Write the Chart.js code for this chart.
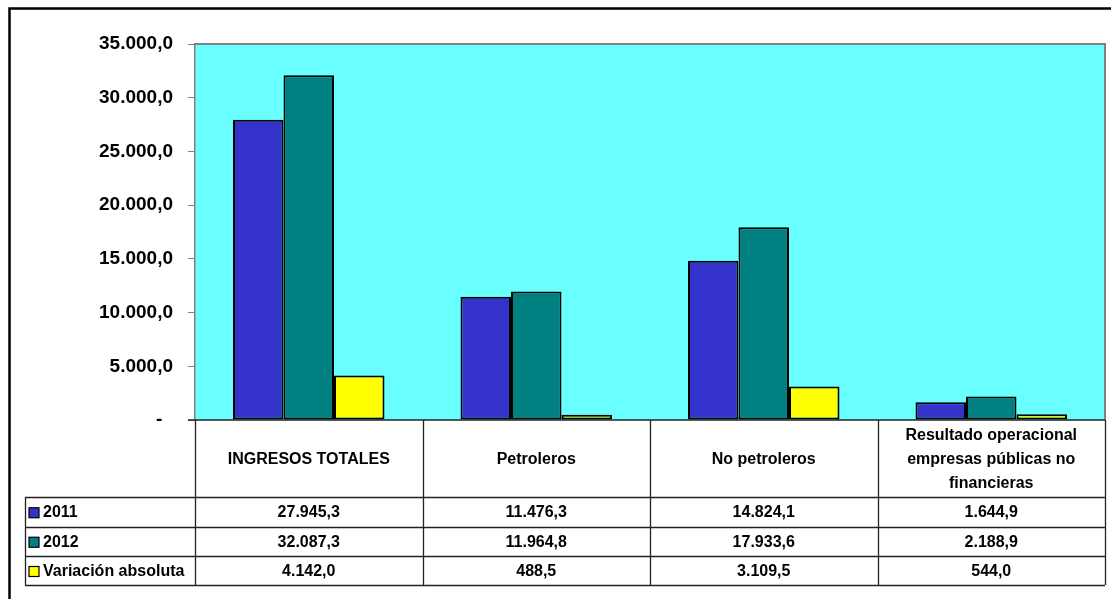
<!DOCTYPE html>
<html>
<head>
<meta charset="utf-8">
<script src="https://cdn.jsdelivr.net/npm/chart.js@4.4.0/dist/chart.umd.min.js"></script>
<style>
  html, body { margin: 0; padding: 0; background: #fff; }
  canvas { display: block; }
</style>
</head>
<body>
<canvas id="chart" width="1111" height="599"></canvas>
<script>
// data
const categories = [
  ['INGRESOS TOTALES'],
  ['Petroleros'],
  ['No petroleros'],
  ['Resultado operacional', 'empresas públicas no', 'financieras']
];
const seriesNames = ['2011', '2012', 'Variación absoluta'];
const values2011 = [27945.3, 11476.3, 14824.1, 1644.9];
const values2012 = [32087.3, 11964.8, 17933.6, 2188.9];
const valuesVariacion = [4142.0, 488.5, 3109.5, 544.0];
const yMax = 35000;
const yStep = 5000;

const colors = ['#3333CC', '#008080', '#FFFF00'];
const FONT = '"Liberation Sans", Arial, sans-serif';

function fmt(v) {
  const parts = v.toFixed(1).split('.');
  return parts[0].replace(/\B(?=(\d{3})+(?!\d))/g, '.') + ',' + parts[1];
}

const allSeries = [values2011, values2012, valuesVariacion];

// cyan plot area + outer frame
const backgroundPlugin = {
  id: 'bg',
  beforeDraw(chart) {
    const ctx = chart.ctx;
    const a = chart.chartArea;
    ctx.save();
    ctx.fillStyle = '#fff';
    ctx.fillRect(0, 0, chart.width, chart.height);
    // outer frame (cut by window on right/bottom)
    ctx.strokeStyle = '#000';
    ctx.lineWidth = 2.5;
    ctx.strokeRect(9.5, 8.5, 1200, 700);
    ctx.fillStyle = '#69FFFF';
    ctx.fillRect(a.left, a.top, a.right - a.left, a.bottom - a.top);
    ctx.strokeStyle = '#808080';
    ctx.lineWidth = 2;
    ctx.beginPath();
    ctx.moveTo(a.left, a.top);
    ctx.lineTo(a.right, a.top);
    ctx.lineTo(a.right, a.bottom);
    ctx.stroke();
    ctx.restore();
  }
};

// data table under the plot
const tablePlugin = {
  id: 'table',
  afterDraw(chart) {
    const ctx = chart.ctx;
    const a = chart.chartArea;
    const x = chart.scales.x;
    const half = (a.right - a.left) / categories.length / 2;
    const headBottom = 497;
    const rowLines = [497, 526.5, 556, 585];
    const legendLeft = 25;

    ctx.save();
    ctx.strokeStyle = '#222';
    ctx.lineWidth = 1.3;
    // axis base line
    ctx.beginPath();
    ctx.moveTo(a.left - 7, a.bottom);
    ctx.lineTo(a.right, a.bottom);
    ctx.stroke();

    // vertical column lines
    ctx.beginPath();
    for (let i = 0; i <= categories.length; i++) {
      const cx = i < categories.length ? x.getPixelForValue(i) - half : x.getPixelForValue(i - 1) + half;
      ctx.moveTo(Math.round(cx) + 0.5, a.bottom);
      ctx.lineTo(Math.round(cx) + 0.5, rowLines[rowLines.length - 1]);
    }
    ctx.moveTo(legendLeft + 0.5, headBottom);
    ctx.lineTo(legendLeft + 0.5, rowLines[rowLines.length - 1]);
    rowLines.forEach(y => {
      ctx.moveTo(legendLeft, Math.round(y) + 0.5);
      ctx.lineTo(a.right, Math.round(y) + 0.5);
    });
    ctx.stroke();

    ctx.fillStyle = '#000';
    ctx.font = 'bold 16px ' + FONT;
    ctx.textAlign = 'center';
    ctx.textBaseline = 'middle';

    // header labels
    const headMid = (a.bottom + headBottom) / 2 + 1.5;
    categories.forEach((lines, i) => {
      const cx = x.getPixelForValue(i);
      const lh = 24;
      const y0 = headMid - (lines.length - 1) * lh / 2;
      lines.forEach((t, k) => ctx.fillText(t, cx, y0 + k * lh));
    });

    // rows
    for (let r = 0; r < seriesNames.length; r++) {
      const yMid = (rowLines[r] + rowLines[r + 1]) / 2 + 1;
      // legend key
      ctx.fillStyle = colors[r];
      ctx.fillRect(29, yMid - 5, 10, 10);
      ctx.strokeStyle = '#000';
      ctx.lineWidth = 1.2;
      ctx.strokeRect(29, yMid - 5, 10, 10);
      ctx.fillStyle = '#000';
      ctx.textAlign = 'left';
      ctx.fillText(seriesNames[r], 43, yMid);
      ctx.textAlign = 'center';
      allSeries[r].forEach((v, i) => {
        ctx.fillText(fmt(v), x.getPixelForValue(i), yMid);
      });
    }
    ctx.restore();
  }
};

new Chart(document.getElementById('chart'), {
  type: 'bar',
  plugins: [backgroundPlugin, tablePlugin],
  data: {
    labels: categories.map(c => c.join(' ')),
    datasets: seriesNames.map((name, i) => ({
      label: name,
      data: allSeries[i],
      backgroundColor: colors[i],
      borderColor: '#000',
      borderWidth: 2,
      borderSkipped: false,
      categoryPercentage: 0.666,
      barPercentage: 1.0
    }))
  },
  options: {
    responsive: false,
    animation: false,
    layout: { padding: { left: 0, top: 44, right: 6, bottom: 179 } },
    plugins: {
      legend: { display: false },
      tooltip: { enabled: false }
    },
    scales: {
      x: { display: false },
      y: {
        min: 0,
        max: yMax,
        afterFit(scale) { scale.width = 195; },
        grid: { drawOnChartArea: false, color: '#808080', tickLength: 7 },
        border: { color: '#808080', width: 1.5 },
        ticks: {
          stepSize: yStep,
          padding: 15,
          color: '#000',
          font: { family: FONT, size: 19, weight: 'bold' },
          callback: v => v === 0 ? '-  ' : fmt(v)
        }
      }
    }
  }
});
</script>
</body>
</html>
